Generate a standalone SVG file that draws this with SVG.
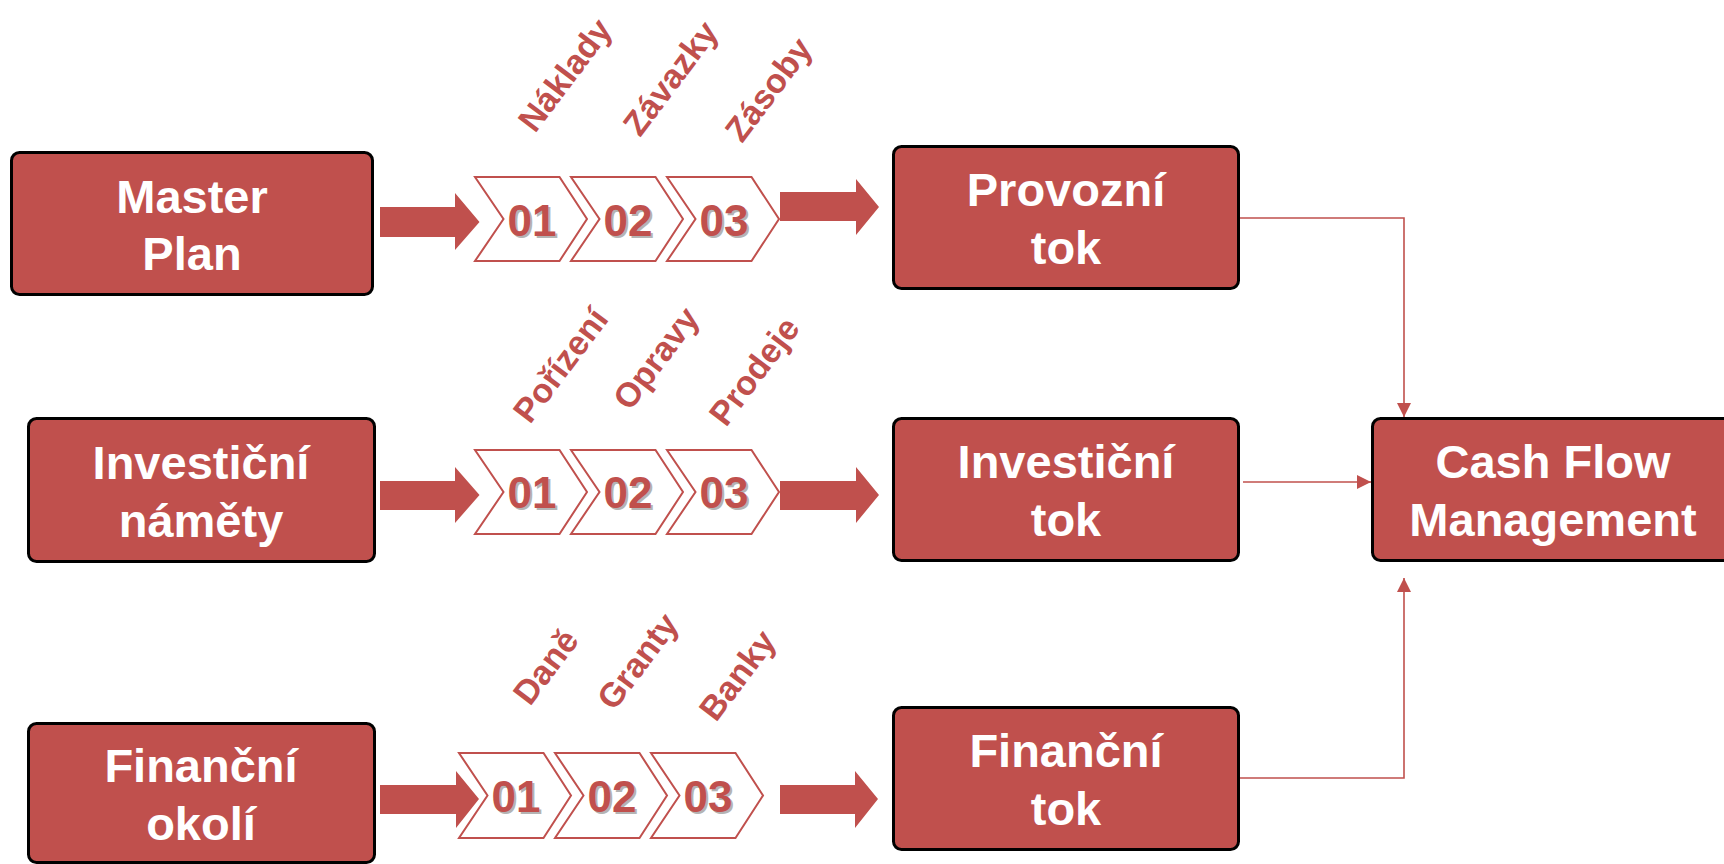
<svg xmlns="http://www.w3.org/2000/svg" width="1724" height="864" viewBox="0 0 1724 864">
  <defs>
    <style>
      .box { fill: #c0504d; stroke: #000; stroke-width: 3; }
      .boxtxt { font-family: "Liberation Sans", Arial, sans-serif; font-weight: bold; font-size: 47px; fill: #fff; text-anchor: middle; }
      .chev { fill: #fff; stroke: #c0504d; stroke-width: 2; stroke-linejoin: miter; }
      .num { font-family: "Liberation Sans", Arial, sans-serif; font-weight: bold; font-size: 44px; fill: #c0504d; text-anchor: middle; }
      .numsh { font-family: "Liberation Sans", Arial, sans-serif; font-weight: bold; font-size: 44px; fill: #b4b4b4; text-anchor: middle; }
      .lbl { font-family: "Liberation Sans", Arial, sans-serif; font-weight: bold; font-size: 34px; fill: #c0504d; }
      .big { fill: #c0504d; }
      .conn { fill: none; stroke: #c0504d; stroke-width: 1.6; }
    </style>
    <marker id="ah" viewBox="0 0 14 14" refX="14" refY="7" markerWidth="14" markerHeight="14" markerUnits="userSpaceOnUse" orient="auto">
      <path d="M0,0 L14,7 L0,14 Z" fill="#c0504d"/>
    </marker>
  </defs>

  <!-- source nodes -->
  <g id="master-plan">
    <rect class="box" x="11.5" y="152.5" width="361" height="142" rx="8"/>
    <text class="boxtxt" x="192" y="213">Master</text>
    <text class="boxtxt" x="192" y="270">Plan</text>
  </g>
  <g id="investicni-namety">
    <rect class="box" x="28.5" y="418.5" width="346" height="143" rx="8"/>
    <text class="boxtxt" x="201" y="479">Investiční</text>
    <text class="boxtxt" x="201" y="537">náměty</text>
  </g>
  <g id="financni-okoli">
    <rect class="box" x="28.5" y="723.5" width="346" height="139" rx="8"/>
    <text class="boxtxt" x="201" y="782">Finanční</text>
    <text class="boxtxt" x="201" y="840">okolí</text>
  </g>

  <!-- flow nodes -->
  <g id="provozni-tok">
    <rect class="box" x="893.5" y="146.5" width="345" height="142" rx="8"/>
    <text class="boxtxt" x="1066" y="206">Provozní</text>
    <text class="boxtxt" x="1066" y="264">tok</text>
  </g>
  <g id="investicni-tok">
    <rect class="box" x="893.5" y="418.5" width="345" height="142" rx="8"/>
    <text class="boxtxt" x="1066" y="478">Investiční</text>
    <text class="boxtxt" x="1066" y="536">tok</text>
  </g>
  <g id="financni-tok">
    <rect class="box" x="893.5" y="707.5" width="345" height="142" rx="8"/>
    <text class="boxtxt" x="1066" y="767">Finanční</text>
    <text class="boxtxt" x="1066" y="825">tok</text>
  </g>
  <g id="cash-flow-management">
    <rect class="box" x="1372.5" y="418.5" width="362" height="142" rx="8"/>
    <text class="boxtxt" x="1553" y="478">Cash Flow</text>
    <text class="boxtxt" x="1553" y="536">Management</text>
  </g>

  <!-- row 1: operating flow steps -->
  <g id="steps-provozni">
    <path class="big" d="M380,207 H455 V193 L479.5,222 L455,250 V237 H380 Z"/>
    <path class="chev" d="M475,177 H559.5 L587,219 L559.5,261 H475 L503.5,219 Z"/>
    <path class="chev" d="M571,177 H655.5 L683,219 L655.5,261 H571 L599.5,219 Z"/>
    <path class="chev" d="M667,177 H751.5 L779,219 L751.5,261 H667 L695.5,219 Z"/>
    <text class="numsh" x="534" y="238">01</text><text class="num" x="532" y="236">01</text>
    <text class="numsh" x="630" y="238">02</text><text class="num" x="628" y="236">02</text>
    <text class="numsh" x="726" y="238">03</text><text class="num" x="724" y="236">03</text>
    <path class="big" d="M780,192 H856 V179 L879,207 L856,235 V221 H780 Z"/>
    <text class="lbl" transform="translate(535,134) rotate(-53)">Náklady</text>
    <text class="lbl" transform="translate(640,138) rotate(-53)">Závazky</text>
    <text class="lbl" transform="translate(742,144) rotate(-53)">Zásoby</text>
  </g>

  <!-- row 2: investment flow steps -->
  <g id="steps-investicni">
    <path class="big" d="M380,481 H455 V467 L479.5,495 L455,523 V510 H380 Z"/>
    <path class="chev" d="M475,450 H559.5 L587,492 L559.5,534 H475 L503.5,492 Z"/>
    <path class="chev" d="M571,450 H655.5 L683,492 L655.5,534 H571 L599.5,492 Z"/>
    <path class="chev" d="M667,450 H751.5 L779,492 L751.5,534 H667 L695.5,492 Z"/>
    <text class="numsh" x="534" y="510">01</text><text class="num" x="532" y="508">01</text>
    <text class="numsh" x="630" y="510">02</text><text class="num" x="628" y="508">02</text>
    <text class="numsh" x="726" y="510">03</text><text class="num" x="724" y="508">03</text>
    <path class="big" d="M780,481 H856 V467 L879,495 L856,523 V510 H780 Z"/>
    <text class="lbl" transform="translate(530,425) rotate(-53)">Pořízení</text>
    <text class="lbl" transform="translate(630,412) rotate(-53)">Opravy</text>
    <text class="lbl" transform="translate(726,428) rotate(-53)">Prodeje</text>
  </g>

  <!-- row 3: financing flow steps -->
  <g id="steps-financni">
    <path class="big" d="M380,785 H456 V771 L479,799 L456,828 V814 H380 Z"/>
    <path class="chev" d="M459,753 H543.5 L571,795.5 L543.5,838 H459 L487.5,795.5 Z"/>
    <path class="chev" d="M555,753 H639.5 L667,795.5 L639.5,838 H555 L583.5,795.5 Z"/>
    <path class="chev" d="M651,753 H735.5 L763,795.5 L735.5,838 H651 L679.5,795.5 Z"/>
    <text class="numsh" x="518" y="814">01</text><text class="num" x="516" y="812">01</text>
    <text class="numsh" x="614" y="814">02</text><text class="num" x="612" y="812">02</text>
    <text class="numsh" x="710" y="814">03</text><text class="num" x="708" y="812">03</text>
    <path class="big" d="M780,785 H855 V771 L878,799 L855,828 V814 H780 Z"/>
    <text class="lbl" transform="translate(530,707) rotate(-53)">Daně</text>
    <text class="lbl" transform="translate(614,712) rotate(-53)">Granty</text>
    <text class="lbl" transform="translate(716,723) rotate(-53)">Banky</text>
  </g>

  <!-- connectors into Cash Flow Management -->
  <g id="connectors">
    <path class="conn" d="M1240,218 H1404 V417" marker-end="url(#ah)"/>
    <path class="conn" d="M1243,482 H1371" marker-end="url(#ah)"/>
    <path class="conn" d="M1240,778 H1404 V578" marker-end="url(#ah)"/>
  </g>
</svg>
